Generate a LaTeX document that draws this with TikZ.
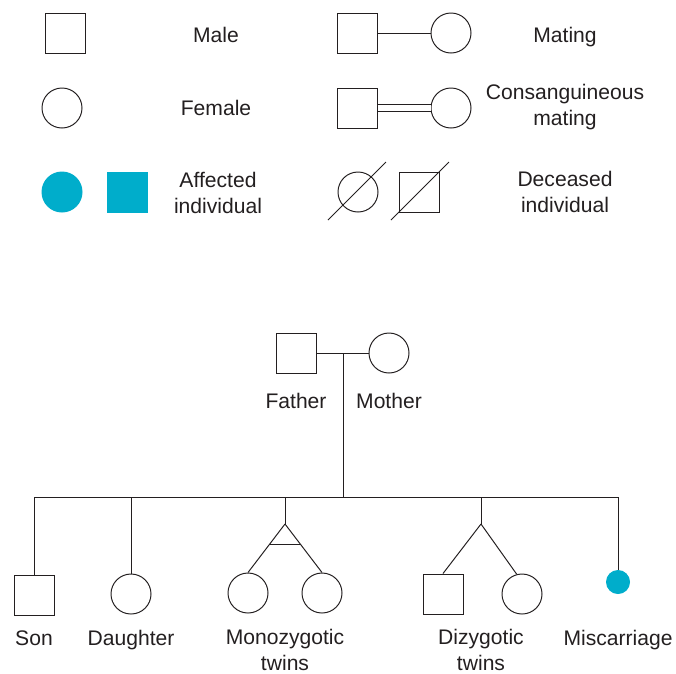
\documentclass[tikz,border=0pt]{standalone}
\usepackage{fontspec}
\setmainfont{Liberation Sans}
\usetikzlibrary{calc}
\definecolor{affteal}{RGB}{0,173,203}
\definecolor{inkgray}{RGB}{35,31,32}

\begin{document}
\begin{tikzpicture}[x=0.025cm, y=-0.025cm, line width=0.7pt, color=inkgray,
	every node/.style={font=\fontsize{15}{18}\selectfont},
	male/.style={draw, rectangle, minimum size=1cm, inner sep=0pt},
	female/.style={draw, circle, minimum size=1cm, inner sep=0pt},
	affected/.style={fill=affteal, draw=affteal},
	lbl/.style={align=center}]
	\useasboundingbox (0,0) rectangle (676,673);
	% leyenda, columna izquierda
	\node[male] (lmale) at (65,33) {};
	\node[lbl] (tmale) at (216,35) {Male};
	\node[female] (lfem) at (62,108) {};
	\node[lbl] (tfem) at (216,108) {Female};
	\node[female, affected] (laffc) at (62,192) {};
	\node[male, affected] (laffs) at (127,192) {};
	\node[lbl] (taff) at (218,193) {Affected\\individual};
	% leyenda, columna derecha
	\node[male] (mfa) at (357,33) {};
	\node[female] (mmo) at (451,33) {};
	\draw (mfa) -- (mmo);
	\node[lbl] (tmat) at (565,37) {Mating};
	\node[male] (cfa) at (357,108) {};
	\node[female] (cmo) at (451,108) {};
	\draw[double, double distance=4.5pt] (cfa) -- (cmo);
	\node[lbl] (tcon) at (565,107) {Consanguineous\\mating};
	\node[female] (dfem) at (358,192) {};
	\node[male] (dmale) at (419,192) {};
	\draw ($(dfem.center)+(-30,28)$) -- ($(dfem.center)+(28,-30)$);
	\draw ($(dmale.center)+(-28,28)$) -- ($(dmale.center)+(30,-30)$);
	\node[lbl] (tdec) at (565,192) {Deceased\\individual};
	% padres
	\node[male] (father) at (296,353) {};
	\node[female] (mother) at (389,353) {};
	\node (tfather) at (296,401) {Father};
	\node (tmother) at (389,401) {Mother};
	\coordinate (pmate) at (343,353);
	\coordinate (psib) at (343,497);
	\draw (father) -- (mother);
	\draw (pmate) -- (psib);
	% hijos
	\node[male] (son) at (34,595) {};
	\node[female] (dau) at (131,594) {};
	\node[female] (mz1) at (248,593) {};
	\node[female] (mz2) at (322,593) {};
	\node[male] (dz1) at (443,594) {};
	\node[female] (dz2) at (522,594) {};
	\node[female, affected, minimum size=0.575cm] (misc) at (618,582) {};
	\foreach \n/\x in {son/34, dau/131, mz/285, dz/481, misc/618} \coordinate (s\n) at (\x,497);
	\coordinate (mzapex) at (285,524);
	\coordinate (dzapex) at (481,524);
	\draw (sson) -- (smisc);
	\draw (sson) -- (son);
	\draw (sdau) -- (dau);
	\draw (smisc) -- (misc);
	% gemelos
	\draw (smz) -- (mzapex);
	\draw (mzapex) -- (mz1.north);
	\draw (mzapex) -- (mz2.north);
	\draw ($(mzapex)!0.43!(mz1.north)$) -- ($(mzapex)!0.43!(mz2.north)$);
	\draw (sdz) -- (dzapex);
	\draw (dzapex) -- (dz1.north);
	\draw (dzapex) -- (dz2.105);
	% rotulos
	\node (tson) at (34,638) {Son};
	\node (tdau) at (131,640) {Daughter};
	\node[lbl] (tmz) at (285,650) {Monozygotic\\twins};
	\node[lbl] (tdz) at (481,650) {Dizygotic\\twins};
	\node (tmisc) at (618,640) {Miscarriage};
\end{tikzpicture}
\end{document}
